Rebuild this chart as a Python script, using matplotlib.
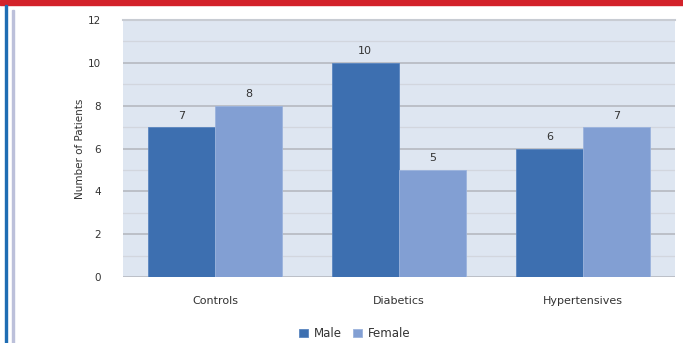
import numpy as np
import matplotlib.pyplot as plt
from matplotlib.patches import Rectangle

groups = ['Controls', 'Diabetics', 'Hypertensives']
male = [7, 10, 6]
female = [8, 5, 7]

fig = plt.figure(figsize=(6.83, 3.43), dpi=100)

# frame decorations: red band on top, blue and lavender rules on the left
fig.patches.append(Rectangle((0, 0.985), 1, 0.015, transform=fig.transFigure,
                             color='#d3222a', zorder=0))
fig.patches.append(Rectangle((0.0075, 0), 0.003, 0.985, transform=fig.transFigure,
                             color='#1f6db3', zorder=0))
fig.patches.append(Rectangle((0.0175, 0), 0.003, 0.972, transform=fig.transFigure,
                             color='#bcc0da', zorder=0))

ax = fig.add_axes([0.180, 0.1924, 0.808, 0.7493])
ax.set_facecolor('#dee6f1')

x = np.arange(len(groups))
w = 0.365
b1 = ax.bar(x - w / 2, male, w, color='#3d6fb0', edgecolor='#5a86c0',
            linewidth=0.6, label='Male', zorder=3)
b2 = ax.bar(x + w / 2, female, w, color='#829fd3', edgecolor='#9bb3dd',
            linewidth=0.6, label='Female', zorder=3)

for bars in (b1, b2):
    for r in bars:
        ax.text(r.get_x() + r.get_width() / 2, r.get_height() + 0.3,
                '%d' % r.get_height(), ha='center', va='bottom',
                fontsize=8, color='#333333', zorder=4)

ax.set_xlim(-0.5, 2.5)
ax.set_ylim(0, 12)
ax.set_yticks(range(0, 13, 2))
ax.set_yticks(range(1, 13, 2), minor=True)
ax.yaxis.grid(True, which='major', color='#b9bcc4', linewidth=1.3, zorder=1)
ax.yaxis.grid(True, which='minor', color='#d2d6de', linewidth=0.9, zorder=1)
ax.set_xticks(x)
ax.set_xticklabels(groups)
ax.tick_params(axis='x', length=0, pad=14, labelsize=8, labelcolor='#333333')
ax.tick_params(axis='y', which='both', length=0, pad=16, labelsize=7.5,
               labelcolor='#333333')
for s in ax.spines.values():
    s.set_visible(False)
ax.spines['top'].set_visible(True)
ax.spines['top'].set_color('#c8ccd3')
ax.spines['top'].set_linewidth(1.5)

ax.set_ylabel('Number of Patients', fontsize=7.5, color='#333333', labelpad=2)

ax.legend(loc='upper center', bbox_to_anchor=(0.42, -0.155), ncol=2, frameon=False,
          fontsize=8.5, handlelength=0.7, handleheight=0.7, handletextpad=0.5,
          columnspacing=1.0, labelcolor='#333333')

fig.savefig('out.png', dpi=100)
